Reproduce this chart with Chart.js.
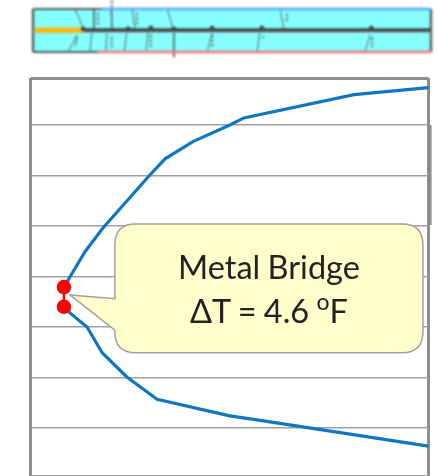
<!DOCTYPE html>
<html>
<head>
<meta charset="utf-8">
<script src="https://cdn.jsdelivr.net/npm/chart.js@4/dist/chart.umd.min.js"></script>
<style>
html,body{margin:0;padding:0;background:#fff;overflow:hidden}
#wrap{position:relative;width:437px;height:476px}
canvas{position:absolute;left:0}
#main{top:0}
#inset{top:0;filter:blur(.8px)}
#note{position:absolute;left:115px;width:308px;top:245px;text-align:center;font-family:Lato,"Open Sans",sans-serif;font-size:32.5px;line-height:44px;color:#222;word-spacing:-1px}
#note sup{font-size:23px;line-height:0;vertical-align:13px}
</style>
</head>
<body>
<div id="wrap">
<canvas id="main" width="437" height="476"></canvas>
<canvas id="inset" width="437" height="70"></canvas>
<div id="note">Metal Bridge<br>ΔT = 4.6 <sup>o</sup>F</div>
</div>
<script>
// Main temperature profile
const upperX = [8.4, 9.9, 13.7, 18.2, 30, 33.8, 40.8, 50.1, 53.6, 81.3, 100];
const upperY = [37.9, 39.9, 44.9, 49.6, 60.1, 63.3, 66.7, 70.0, 71.4, 76.0, 77.4];
const lowerX = [8.4, 9.9, 14.2, 18, 24.2, 31.8, 50.1, 56.9, 100];
const lowerY = [34.0, 32.8, 30.0, 24.9, 20.1, 15.7, 12.4, 11.6, 6.4];
const bridgeX = [8.4, 8.4];
const bridgeY = [37.9, 34.0];
const gridTicks = [0.6, 10, 20, 30, 40, 50, 60, 70, 79.3];
const frameX = [0, 100];
const edgeX = [100.4, 100.4];
const edgeY = [70, 50.2];
// Callout anchors, in the chart's data units
const calloutBoxX = [21.2, 98.6];
const calloutBoxY = [50.4, 24.9];
const calloutTip = [9.9, 36.35];
const calloutBaseY = [35.6, 29.4];

// Inset assembly section: [x1, y1, x2, y2] in % of length and depth
const upperStuds = [[10.6,0,12.6,44],[15.3,0,15.3,46],[19.6,-2.3,19.8,46],[24.9,0,25.6,46],[33.7,0,35.2,46],[62.1,0,63,46]];
const lowerStuds = [[11.1,60,8.8,100],[14.8,55.8,14.3,100],[18.6,53.5,18.3,100],[23.6,53.5,22.9,100],[28.9,53.5,28.4,100],[35.4,53.5,35.4,112],[45,55.8,43.7,100],[57,53.5,56.3,100],[84.7,60.5,83.4,100]];
const studLabels = [[16.3,9,16.3,37],[26.1,9,26.1,37],[63.8,11,63.8,32],[11.1,65,10.6,88],[19.8,65,19.8,90],[29.6,60,29.6,90],[45,60,45,90],[85.2,65,85.2,90],[57.8,63,57.8,68],[19.8,-21,19.8,-3],[35.4,103,35.4,114]];
const nodes = [[12.6,46],[23.9,46],[29.6,44],[35.4,46],[45,44],[57.5,44],[85,44]];
const plateX = [0.5, 12.6];
const plateY = [48.8, 48.8];
const coreX = [12.6, 100];
const coreY = [49, 49];
const hotEdgeX = [17.3, 100];
const coldEdgeX = [16.3, 100];
const wallX = [0, 100];

const GRAY = '#8e8e8e';
const pts = (xs, ys) => xs.map((x, i) => ({x, y: ys[i]}));

const calloutPlugin = {
  id: 'callout',
  beforeDatasetsDraw(chart) {
    const {ctx, scales: {x, y}} = chart;
    const l = x.getPixelForValue(calloutBoxX[0]), r = x.getPixelForValue(calloutBoxX[1]);
    const t = y.getPixelForValue(calloutBoxY[0]), b = y.getPixelForValue(calloutBoxY[1]);
    const tx = x.getPixelForValue(calloutTip[0]), ty = y.getPixelForValue(calloutTip[1]);
    const b1 = y.getPixelForValue(calloutBaseY[0]), b2 = y.getPixelForValue(calloutBaseY[1]);
    const rad = 21;
    ctx.save();
    ctx.beginPath();
    ctx.moveTo(l + rad, t);
    ctx.lineTo(r - rad, t);
    ctx.quadraticCurveTo(r, t, r, t + rad);
    ctx.lineTo(r, b - rad);
    ctx.quadraticCurveTo(r, b, r - rad, b);
    ctx.lineTo(l + rad, b);
    ctx.quadraticCurveTo(l, b, l, b - rad);
    ctx.lineTo(l, b2);
    ctx.lineTo(tx, ty);
    ctx.lineTo(l, b1);
    ctx.lineTo(l, t + rad);
    ctx.quadraticCurveTo(l, t, l + rad, t);
    ctx.closePath();
    ctx.fillStyle = '#ffffcc';
    ctx.strokeStyle = '#a2a29a';
    ctx.lineWidth = 1.5;
    ctx.fill();
    ctx.stroke();
    ctx.restore();
  }
};

const line = (data, color, width, extra) => Object.assign({
  type: 'line', data, borderColor: color, borderWidth: width,
  pointRadius: 0, tension: 0, fill: false, clip: false
}, extra || {});

new Chart(document.getElementById('main'), {
  type: 'line',
  data: {datasets: [
    line(pts(bridgeX, bridgeY), '#ff0000', 2.5, {pointRadius: 7.3, pointBackgroundColor: '#ff0000', pointBorderWidth: 0}),
    line(pts(upperX, upperY), '#1176c0', 3.2),
    line(pts(lowerX, lowerY), '#1176c0', 3.2),
    line(pts(edgeX, edgeY), GRAY, 3)
  ]},
  options: {
    responsive: false, animation: false, events: [],
    layout: {autoPadding: false, padding: {left: 30.5, right: 8.5, top: 78, bottom: 0.5}},
    plugins: {legend: {display: false}, tooltip: {enabled: false}},
    scales: {
      x: {
        type: 'linear', min: 0, max: 100,
        afterBuildTicks: s => { s.ticks = frameX.map(value => ({value})); },
        afterFit: s => { s.height = 0; },
        ticks: {display: false},
        border: {display: false},
        grid: {drawTicks: false, color: GRAY, lineWidth: 3}
      },
      y: {
        type: 'linear', min: gridTicks[0], max: gridTicks[gridTicks.length - 1],
        afterBuildTicks: s => { s.ticks = gridTicks.map(value => ({value})); },
        afterFit: s => { s.width = 0; },
        ticks: {display: false},
        border: {display: false},
        grid: {
          drawTicks: false,
          color: c => (c.index === gridTicks.length - 1 ? GRAY : '#a0a0a0'),
          lineWidth: c => (c.index === gridTicks.length - 1 ? 3 : 1.6)
        }
      }
    }
  },
  plugins: [calloutPlugin]
});

const seg = (s, color, width, extra) => line([{x: s[0], y: s[1]}, {x: s[2], y: s[3]}], color, width, extra);
// Chart.js paints dataset 0 last, so the list runs from topmost to bottommost
new Chart(document.getElementById('inset'), {
  type: 'line',
  data: {datasets: [
    line(nodes.map(n => ({x: n[0], y: n[1]})), 'transparent', 0, {pointRadius: 2.4, pointBackgroundColor: '#3c4a4a', pointBorderWidth: 0, showLine: false}),
    line(pts(plateX, plateY), '#ffb900', 5.2),
    line(pts(coreX, coreY), '#3c4444', 3.4),
    line(pts([0, 100], [54, 54]), '#aab4b4', 1.5),
    line(pts(hotEdgeX, [0, 0]), '#5aa6ff', 2.4),
    line(pts(coldEdgeX, [100, 100]), '#ff7272', 2.4),
    line(pts([100, 100], [0, 100]), '#505c5c', 2.4),
    line(pts([0, 0], [0, 100]), '#505c5c', 2.4),
    line(pts(wallX, [0, 0]), '#505c5c', 2.2),
    line(pts(wallX, [100, 100]), '#505c5c', 2.2),
    ...studLabels.map(s => seg(s, 'rgba(90,120,120,0.75)', 2.5, {borderDash: [3, 1.5]})),
    ...lowerStuds.map(s => seg(s, '#4f6a6a', 1)),
    ...upperStuds.map(s => seg(s, '#4f6a6a', 1)),
    line(pts(wallX, [100, 100]), '#505c5c', 1.5, {fill: {value: 0}, backgroundColor: '#86ffff'})
  ]},
  options: {
    responsive: false, animation: false, events: [],
    layout: {autoPadding: false, padding: {left: 33, right: 6, top: 9, bottom: 18}},
    plugins: {legend: {display: false}, tooltip: {enabled: false}},
    scales: {
      x: {type: 'linear', min: 0, max: 100, display: false},
      y: {type: 'linear', reverse: true, min: 0, max: 100, display: false}
    }
  }
});
</script>
</body>
</html>
